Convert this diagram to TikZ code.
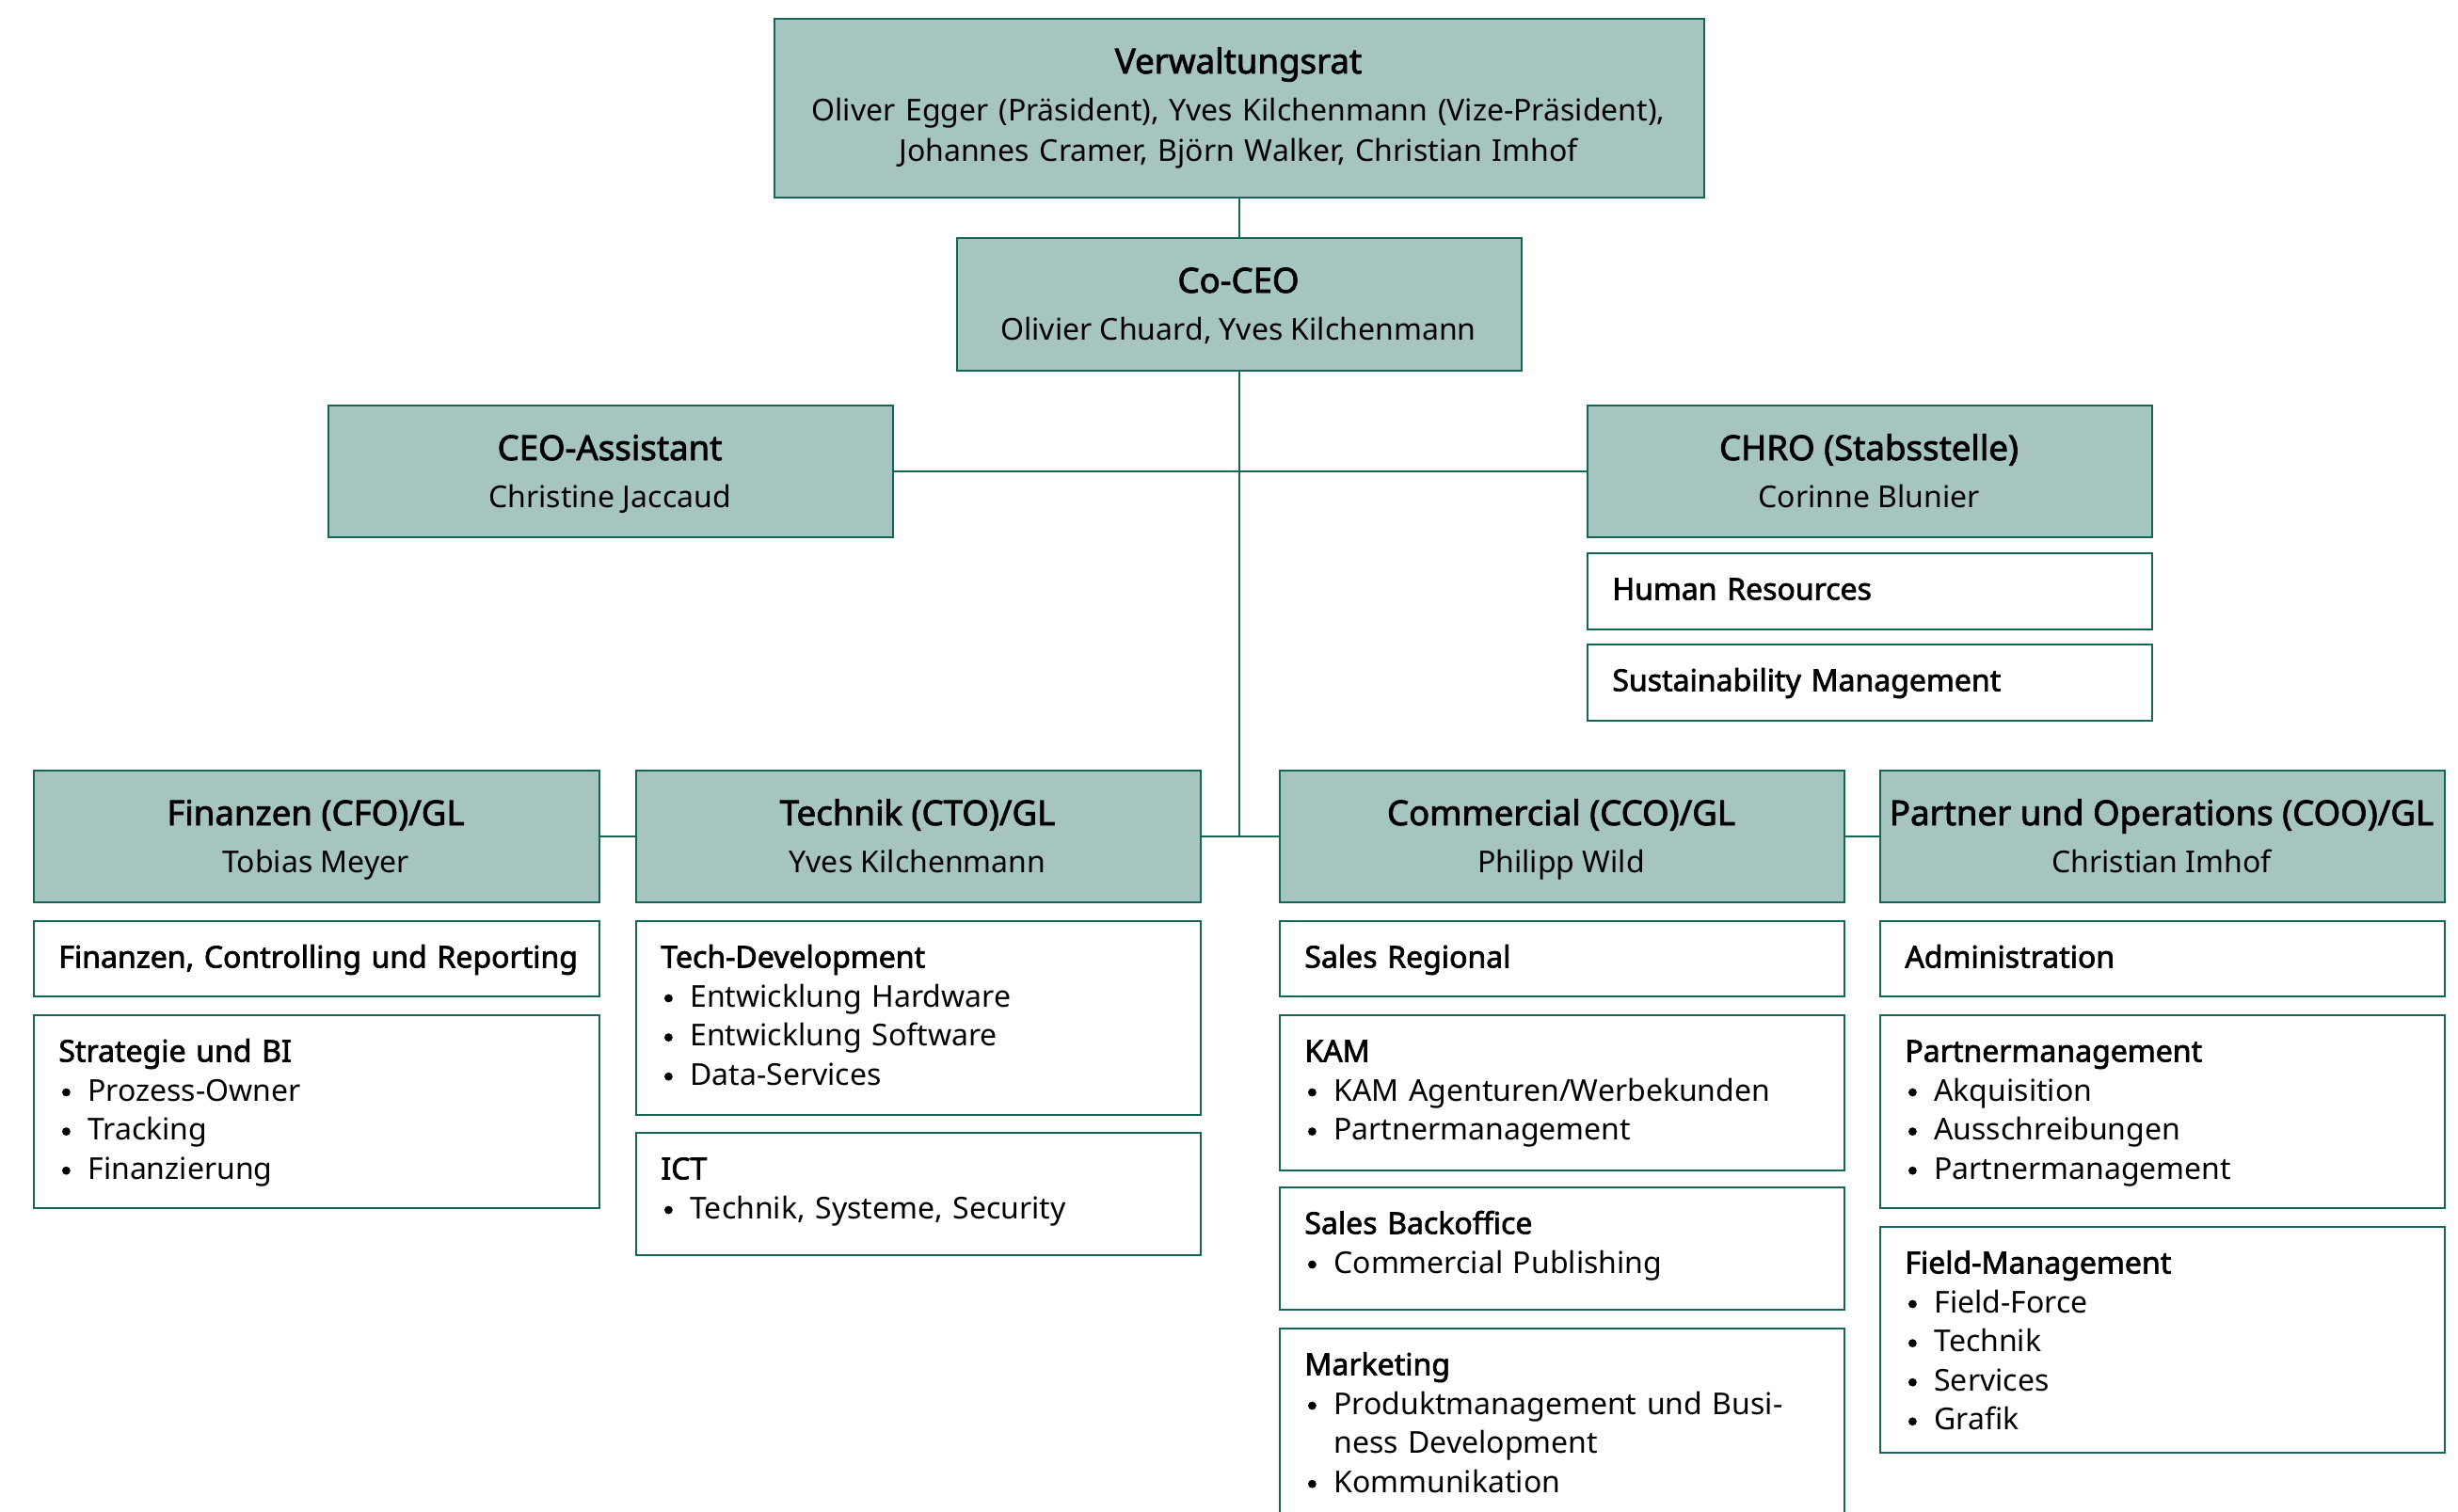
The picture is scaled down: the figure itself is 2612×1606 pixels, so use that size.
\documentclass[tikz,border=0pt]{standalone}
\usepackage{fontspec}
\setmainfont{Noto Sans}[AutoFakeBold=2.2]
\definecolor{hfill}{HTML}{A6C4C0}
\definecolor{edgec}{HTML}{166658}
\newcommand\fst{\rule{0pt}{15pt}}
\newcommand\bu{\hspace*{4pt}\makebox[0pt]{\tikz[baseline=0pt]\fill[black] (0pt,4.5pt) circle[radius=2.2pt];}\hspace*{11.5pt}}
\newcommand\ind{\hspace*{15.5pt}}
\newcommand\hfont{\fontsize{18.3}{20}\bfseries\selectfont}
\newcommand\nfont{\fontsize{16}{21.75}\selectfont}
\newcommand\sfont{\fontsize{16}{20.8}\selectfont}
\tikzset{
  hbox/.style={draw=edgec, fill=hfill, line width=1pt, rectangle, inner sep=0pt},
  wbox/.style={draw=edgec, fill=white, line width=1pt, rectangle, inner sep=0pt},
  htitle/.style={anchor=base, inner sep=0pt, font=\hfont},
  hname/.style={anchor=base, inner sep=0pt, font=\nfont},
  stxt/.style={anchor=north west, inner sep=0pt, text width=290pt, align=left, font=\sfont},
  conn/.style={draw=edgec, line width=1pt}
}
\newcommand\hb[5]{\node[hbox, anchor=north west, minimum width=#4*0.5pt, minimum height=#5*0.5pt] (#1) at (#2,#3) {};}
\newcommand\wb[5]{\node[wbox, anchor=north west, minimum width=#4*0.5pt, minimum height=#5*0.5pt] (#1) at (#2,#3) {};}
\begin{document}
\begin{tikzpicture}[x=0.5pt,y=-0.5pt]
\useasboundingbox[fill=white] (0,0) rectangle (2612,1606);
% top boxes
\hb{vr}{822}{19}{988}{190}
\hb{coceo}{1016}{252}{600}{141}
\hb{ceoa}{348}{430}{600}{140}
\hb{chro}{1686}{430}{600}{140}
\wb{hr}{1686}{587}{600}{81}
\wb{sust}{1686}{684}{600}{81}
% header row
\hb{cfo}{35}{818}{601}{140}
\hb{cto}{675}{818}{600}{140}
\hb{cco}{1359}{818}{600}{140}
\hb{coo}{1997}{818}{600}{140}
% sub boxes
\wb{f1}{35}{978}{601}{80}
\wb{f2}{35}{1078}{601}{205}
\wb{t1}{675}{978}{600}{206}
\wb{t2}{675}{1203}{600}{130}
\wb{c1}{1359}{978}{600}{80}
\wb{c2}{1359}{1078}{600}{165}
\wb{c3}{1359}{1261}{600}{130}
\wb{c4}{1359}{1411}{600}{215}
\wb{o1}{1997}{978}{600}{80}
\wb{o2}{1997}{1078}{600}{205}
\wb{o3}{1997}{1303}{600}{240}
% connectors
\draw[conn] (vr.south) -- (coceo.north);
\draw[conn] (ceoa.east) -- (chro.west);
\coordinate (mid) at (coceo.south |- cto.east);
\draw[conn] (coceo.south) -- (mid);
\draw[conn] (cfo.east) -- (cto.west);
\draw[conn] (cto.east) -- (cco.west);
\draw[conn] (cco.east) -- (coo.west);
% header texts
\node[htitle] (vr-t) at (1316,78) {Verwaltungsrat};
\node[anchor=north, inner sep=0pt, align=center, text width=480pt, font=\nfont] (vr-n) at (1316,98)
  {\fst Oliver Egger (Präsident), Yves Kilchenmann (Vize-Präsident),\\ Johannes Cramer, Björn Walker, Christian Imhof};
\node[htitle] (coceo-t) at (1316,311) {Co-CEO};
\node[hname] (coceo-n) at (1316,361) {Olivier Chuard, Yves Kilchenmann};
\node[htitle] (ceoa-t) at (648,489) {CEO-Assistant};
\node[hname] (ceoa-n) at (648,539) {Christine Jaccaud};
\node[htitle] (chro-t) at (1986,489) {CHRO (Stabsstelle)};
\node[hname] (chro-n) at (1986,539) {Corinne Blunier};
\node[htitle] (cfo-t) at (335.5,877) {Finanzen (CFO)/GL};
\node[hname] (cfo-n) at (335.5,927) {Tobias Meyer};
\node[htitle] (cto-t) at (975,877) {Technik (CTO)/GL};
\node[hname] (cto-n) at (975,927) {Yves Kilchenmann};
\node[htitle] (cco-t) at (1659,877) {Commercial (CCO)/GL};
\node[hname] (cco-n) at (1659,927) {Philipp Wild};
\node[htitle] (coo-t) at (2297,877) {Partner und Operations (COO)/GL};
\node[hname] (coo-n) at (2297,927) {Christian Imhof};
% sub texts
\node[stxt] (hr-t) at (1713,607) {\fst\textbf{Human Resources}};
\node[stxt] (sust-t) at (1713,704) {\fst\textbf{Sustainability Management}};
\node[stxt] (f1-t) at (62,998) {\fst\textbf{Finanzen, Controlling und Reporting}};
\node[stxt] (f2-t) at (62,1098) {\fst\textbf{Strategie und BI}\\\bu Prozess-Owner\\\bu Tracking\\\bu Finanzierung};
\node[stxt] (t1-t) at (702,998) {\fst\textbf{Tech-Development}\\\bu Entwicklung Hardware\\\bu Entwicklung Software\\\bu Data-Services};
\node[stxt] (t2-t) at (702,1223) {\fst\textbf{ICT}\\\bu Technik, Systeme, Security};
\node[stxt] (c1-t) at (1386,998) {\fst\textbf{Sales Regional}};
\node[stxt] (c2-t) at (1386,1098) {\fst\textbf{KAM}\\\bu KAM Agenturen/Werbekunden\\\bu Partnermanagement};
\node[stxt] (c3-t) at (1386,1281) {\fst\textbf{Sales Backoffice}\\\bu Commercial Publishing};
\node[stxt] (c4-t) at (1386,1431) {\fst\textbf{Marketing}\\\bu Produktmanagement und Busi-\\\ind ness Development\\\bu Kommunikation};
\node[stxt] (o1-t) at (2024,998) {\fst\textbf{Administration}};
\node[stxt] (o2-t) at (2024,1098) {\fst\textbf{Partnermanagement}\\\bu Akquisition\\\bu Ausschreibungen\\\bu Partnermanagement};
\node[stxt] (o3-t) at (2024,1323) {\fst\textbf{Field-Management}\\\bu Field-Force\\\bu Technik\\\bu Services\\\bu Grafik};
\end{tikzpicture}
\end{document}
